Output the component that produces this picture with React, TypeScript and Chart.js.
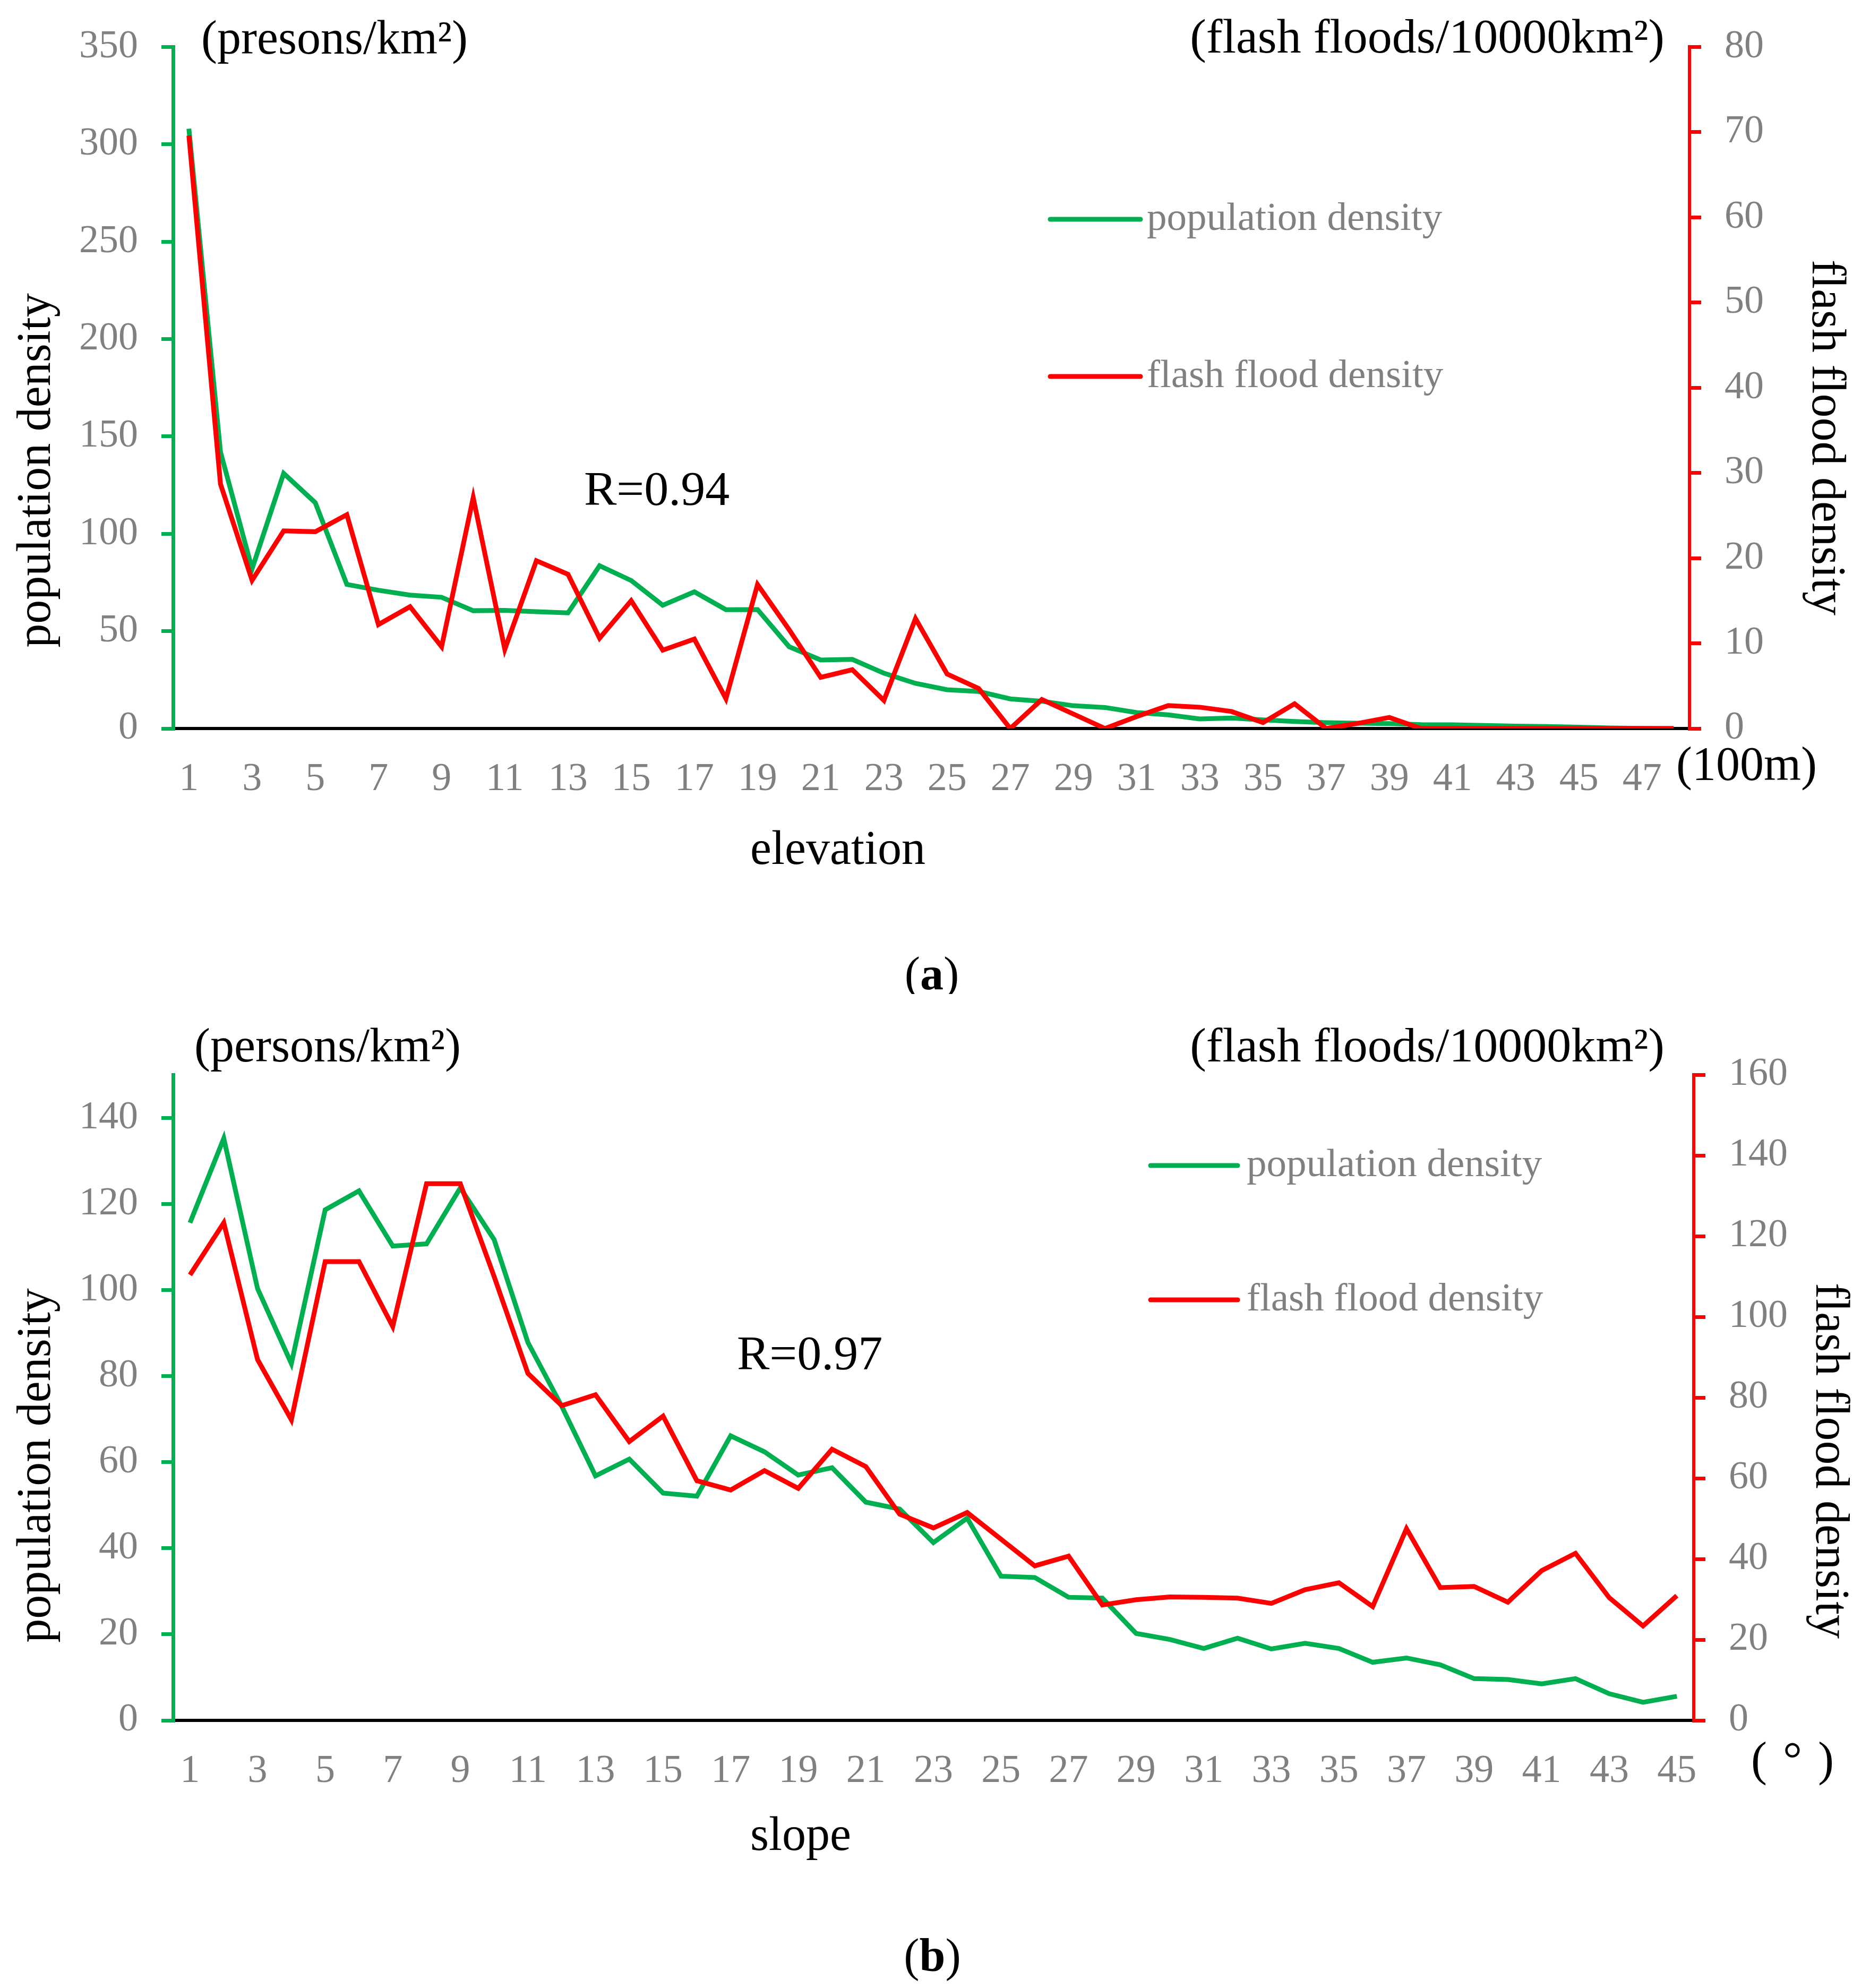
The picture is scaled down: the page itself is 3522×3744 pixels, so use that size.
import React, { useEffect, useRef } from 'react';
import { Chart, registerables } from 'chart.js';

Chart.register(...registerables);

// ---------- data ----------
const elevationLabels = ['1','2','3','4','5','6','7','8','9','10','11','12','13','14','15','16','17','18','19','20','21','22','23','24','25','26','27','28','29','30','31','32','33','34','35','36','37','38','39','40','41','42','43','44','45','46','47','48'];
const elevationPopulation = [308,142,82,131,116,74,71,68.5,67.4,60.5,60.7,60,59.4,83.6,76,63.3,70.2,61,61.1,42,35.2,35.5,28.4,23.2,19.9,19,15.2,14,11.7,10.8,8.2,7,4.9,5.4,4.4,3.6,3,2.7,2.5,2,1.9,1.6,1.2,1,0.7,0.3,0.1,0];
const elevationFlood = [69.6,28.7,17.4,23.2,23.1,25.1,12.2,14.3,9.6,27.1,9.3,19.7,18.1,10.6,15,9.2,10.5,3.5,16.9,11.6,6,6.9,3.3,12.9,6.4,4.7,0,3.4,1.7,0,1.4,2.7,2.5,2,0.7,2.9,0,0.6,1.3,0,0,0,0,0,0,0,0,0];

const slopeLabels = ['1','2','3','4','5','6','7','8','9','10','11','12','13','14','15','16','17','18','19','20','21','22','23','24','25','26','27','28','29','30','31','32','33','34','35','36','37','38','39','40','41','42','43','44','45'];
const slopePopulation = [115.6,135.2,100.3,82.9,118.6,123,110.2,110.7,123.7,111.7,87.8,73,56.8,60.7,52.8,52.1,66.1,62.4,57,58.7,50.7,49.1,41.3,47,33.5,33.2,28.6,28.4,20.2,18.8,16.7,19.1,16.6,17.9,16.7,13.5,14.5,12.9,9.7,9.5,8.5,9.7,6.2,4.2,5.6];
const slopeFlood = [110.4,123.3,89.4,74.5,113.7,113.7,97.6,133,133,110,86,78,80.7,69.1,75.4,59.4,57.1,61.9,57.5,67.2,62.9,51.1,47.7,51.5,44.9,38.3,40.7,28.6,29.9,30.6,30.5,30.3,29,32.4,34.1,28.2,47.5,32.9,33.2,29.3,37.1,41.4,30.4,23.4,30.9];

// ---------- style ----------
const FONT = '"Liberation Serif", "Times New Roman", serif';
const GREEN = '#00B050';
const RED = '#FF0000';
const GREY = '#808080';
const W = 3522;
const H = 1872;

type Part = { text: string; bold?: boolean };
type TextItem = { parts: Part[]; x: number; y: number; align: 'left' | 'right' | 'center'; size: number; rotate?: number };
type LegendItem = { color: string; text: string; x1: number; x2: number; y: number; tx: number };

function makeAnnot(texts: TextItem[], legend: LegendItem[]) {
  return {
    id: 'annot',
    afterDraw(chart: any) {
      const ctx: CanvasRenderingContext2D = chart.ctx;
      texts.forEach((t) => {
        ctx.save();
        ctx.translate(t.x, t.y);
        if (t.rotate) ctx.rotate((t.rotate * Math.PI) / 180);
        ctx.fillStyle = '#000';
        ctx.textBaseline = 'middle';
        ctx.textAlign = 'left';
        const widths = t.parts.map((p) => {
          ctx.font = `${p.bold ? 'bold ' : ''}${t.size}px ${FONT}`;
          return ctx.measureText(p.text).width;
        });
        const total = widths.reduce((a, b) => a + b, 0);
        let x = t.align === 'left' ? 0 : t.align === 'right' ? -total : -total / 2;
        t.parts.forEach((p, i) => {
          ctx.font = `${p.bold ? 'bold ' : ''}${t.size}px ${FONT}`;
          ctx.fillText(p.text, x, 0);
          x += widths[i];
        });
        ctx.restore();
      });
      legend.forEach((l) => {
        ctx.save();
        ctx.strokeStyle = l.color;
        ctx.lineWidth = 9;
        ctx.lineCap = 'round';
        ctx.beginPath();
        ctx.moveTo(l.x1, l.y);
        ctx.lineTo(l.x2, l.y);
        ctx.stroke();
        ctx.fillStyle = GREY;
        ctx.font = `75px ${FONT}`;
        ctx.textAlign = 'left';
        ctx.textBaseline = 'middle';
        ctx.fillText(l.text, l.tx, l.y);
        ctx.restore();
      });
    },
  };
}

type Panel = {
  labels: string[];
  green: number[];
  red: number[];
  leftMax: number;
  leftStep: number;
  rightMax: number;
  rightStep: number;
  padTop: number;
  xAxisH: number;
  leftW: number;
  rightW: number;
  texts: TextItem[];
  legend: LegendItem[];
};

function buildConfig(p: Panel): any {
  const tickFont = { family: FONT, size: 74 };
  return {
    type: 'line',
    data: {
      labels: p.labels,
      datasets: [
        { label: 'population density', data: p.green, borderColor: GREEN, backgroundColor: GREEN, borderWidth: 9, pointRadius: 0, tension: 0, yAxisID: 'y', order: 2, fill: false },
        { label: 'flash flood density', data: p.red, borderColor: RED, backgroundColor: RED, borderWidth: 9, pointRadius: 0, tension: 0, yAxisID: 'y1', order: 1, fill: false },
      ],
    },
    options: {
      animation: false,
      responsive: false,
      devicePixelRatio: 1,
      events: [],
      layout: { padding: { top: p.padTop, left: 0, right: 0, bottom: 0 } },
      plugins: { legend: { display: false }, tooltip: { enabled: false } },
      scales: {
        x: {
          type: 'category',
          offset: true,
          grid: { display: false },
          border: { display: true, color: '#000', width: 6 },
          ticks: {
            autoSkip: false,
            maxRotation: 0,
            minRotation: 0,
            color: GREY,
            font: tickFont,
            padding: 44,
            callback: function (this: any, v: any, i: number) {
              return i % 2 === 0 ? this.getLabelForValue(v) : '';
            },
          },
          afterFit: (s: any) => { s.height = p.xAxisH; },
        },
        y: {
          position: 'left',
          min: 0,
          max: p.leftMax,
          ticks: { stepSize: p.leftStep, includeBounds: false, color: GREY, font: tickFont, padding: 44 },
          grid: { display: true, drawOnChartArea: false, drawTicks: true, tickLength: 22, color: GREEN, lineWidth: 7 },
          border: { display: true, color: GREEN, width: 7 },
          afterFit: (s: any) => { s.width = p.leftW; },
        },
        y1: {
          position: 'right',
          min: 0,
          max: p.rightMax,
          ticks: { stepSize: p.rightStep, includeBounds: false, color: GREY, font: tickFont, padding: 44 },
          grid: { display: true, drawOnChartArea: false, drawTicks: true, tickLength: 22, color: RED, lineWidth: 7 },
          border: { display: true, color: RED, width: 6 },
          afterFit: (s: any) => { s.width = p.rightW; },
        },
      },
    },
    plugins: [makeAnnot(p.texts, p.legend)],
  };
}

const panelA: Panel = {
  labels: elevationLabels,
  green: elevationPopulation,
  red: elevationFlood,
  leftMax: 350,
  leftStep: 50,
  rightMax: 80,
  rightStep: 10,
  padTop: 77,
  xAxisH: 500,
  leftW: 326,
  rightW: 340,
  texts: [
    { parts: [{ text: '(presons/km²)' }], x: 379, y: 77, align: 'left', size: 90 },
    { parts: [{ text: '(flash floods/10000km²)' }], x: 3135, y: 75, align: 'right', size: 92 },
    { parts: [{ text: 'population density' }], x: 70, y: 886, align: 'center', size: 90, rotate: -90 },
    { parts: [{ text: 'flash flood density' }], x: 3438, y: 824, align: 'center', size: 90, rotate: 90 },
    { parts: [{ text: 'R=0.94' }], x: 1100, y: 927, align: 'left', size: 92 },
    { parts: [{ text: '(100m)' }], x: 3157, y: 1445, align: 'left', size: 90 },
    { parts: [{ text: 'elevation' }], x: 1578, y: 1603, align: 'center', size: 90 },
    { parts: [{ text: '(' }, { text: 'a', bold: true }, { text: ')' }], x: 1755, y: 1840, align: 'center', size: 88 },
  ],
  legend: [
    { color: GREEN, text: 'population density', x1: 1978, x2: 2148, y: 413, tx: 2160 },
    { color: RED, text: 'flash flood density', x1: 1978, x2: 2148, y: 709, tx: 2160 },
  ],
};

const panelB: Panel = {
  labels: slopeLabels,
  green: slopePopulation,
  red: slopeFlood,
  leftMax: 150,
  leftStep: 20,
  rightMax: 160,
  rightStep: 20,
  padTop: 152,
  xAxisH: 504,
  leftW: 326,
  rightW: 332,
  texts: [
    { parts: [{ text: '(persons/km²)' }], x: 366, y: 103, align: 'left', size: 90 },
    { parts: [{ text: '(flash floods/10000km²)' }], x: 3135, y: 103, align: 'right', size: 92 },
    { parts: [{ text: 'population density' }], x: 70, y: 888, align: 'center', size: 90, rotate: -90 },
    { parts: [{ text: 'flash flood density' }], x: 3445, y: 879, align: 'center', size: 90, rotate: 90 },
    { parts: [{ text: 'R=0.97' }], x: 1388, y: 683, align: 'left', size: 92 },
    { parts: [{ text: '(\u2004°\u2004)' }], x: 3298, y: 1447, align: 'left', size: 90 },
    { parts: [{ text: 'slope' }], x: 1508, y: 1588, align: 'center', size: 90 },
    { parts: [{ text: '(' }, { text: 'b', bold: true }, { text: ')' }], x: 1756, y: 1817, align: 'center', size: 88 },
  ],
  legend: [
    { color: GREEN, text: 'population density', x1: 2167, x2: 2331, y: 323, tx: 2348 },
    { color: RED, text: 'flash flood density', x1: 2167, x2: 2331, y: 576, tx: 2348 },
  ],
};

function PanelChart({ panel, top }: { panel: Panel; top: number }) {
  const ref = useRef<HTMLCanvasElement>(null);
  useEffect(() => {
    if (!ref.current) return;
    const chart = new Chart(ref.current, buildConfig(panel));
    return () => chart.destroy();
  }, [panel]);
  return (
    <canvas
      ref={ref}
      width={W}
      height={H}
      style={{ position: 'absolute', left: 0, top, width: W, height: H, display: 'block' }}
    />
  );
}

export default function App() {
  return (
    <div style={{ position: 'absolute', left: 0, top: 0, width: W, height: 2 * H, background: '#fff', overflow: 'hidden' }}>
      <PanelChart panel={panelA} top={0} />
      <PanelChart panel={panelB} top={H} />
    </div>
  );
}
